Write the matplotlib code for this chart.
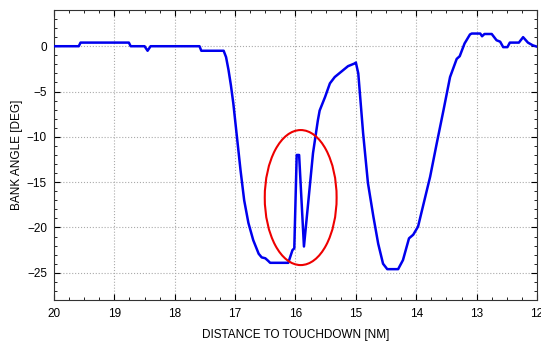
import matplotlib
matplotlib.use("Agg")
import matplotlib.pyplot as plt
from matplotlib.patches import Ellipse
from matplotlib.ticker import MultipleLocator

plt.rcParams['font.family'] = ['Liberation Sans', 'DejaVu Sans']

dist = [20.0, 19.59, 19.56, 18.76, 18.73, 18.50, 18.45, 18.40, 17.59, 17.56, 17.19,
        17.15, 17.11, 17.07, 17.03, 16.97, 16.91, 16.85, 16.78, 16.70, 16.61, 16.56,
        16.50, 16.45, 16.42, 16.12, 16.05, 16.02, 15.98, 15.94, 15.86, 15.79, 15.71,
        15.63, 15.60, 15.51, 15.43, 15.35, 15.24, 15.13, 15.02, 15.00, 14.96, 14.88,
        14.80, 14.71, 14.63, 14.55, 14.48, 14.30, 14.22, 14.12, 14.05, 13.97, 13.89,
        13.77, 13.66, 13.55, 13.44, 13.33, 13.28, 13.20, 13.11, 13.08, 12.94, 12.91,
        12.87, 12.75, 12.67, 12.61, 12.56, 12.49, 12.45, 12.30, 12.23, 12.15, 12.07,
        12.0]
bank = [0.0, 0.0, 0.4, 0.4, 0.0, 0.0, -0.5, 0.0, 0.0, -0.5, -0.5,
        -1.2, -2.6, -4.3, -6.3, -10.0, -13.7, -17.0, -19.5, -21.4, -22.9, -23.3,
        -23.4, -23.7, -23.9, -23.9, -22.5, -22.3, -12.0, -12.0, -22.1, -17.3, -11.8,
        -8.2, -7.1, -5.6, -4.1, -3.4, -2.8, -2.2, -1.9, -1.8, -3.0, -9.6,
        -15.1, -18.8, -21.8, -24.0, -24.6, -24.6, -23.6, -21.2, -20.8, -19.9, -17.7,
        -14.4, -10.7, -7.1, -3.4, -1.4, -1.1, 0.3, 1.3, 1.4, 1.4, 1.1,
        1.35, 1.35, 0.66, 0.5, -0.1, -0.1, 0.4, 0.4, 1.0, 0.4, 0.1,
        -0.05]

xticks = [20, 19, 18, 17, 16, 15, 14, 13, 12]
yticks = [0, -5, -10, -15, -20, -25]

fig = plt.figure(figsize=(5.41, 3.44), dpi=100)
ax = fig.add_axes([0.0998, 0.128, 0.8928, 0.843])
ax.plot(dist, bank, color='#0000ee', linewidth=1.8, zorder=3)
ax.add_patch(Ellipse((15.914, -16.7), 1.19, 14.9, fill=False, edgecolor='#ee0000', linewidth=1.5, zorder=4))

ax.set_xlim(20, 12)
ax.set_ylim(-28, 4)
ax.set_xticks(xticks)
ax.set_yticks(yticks)
ax.xaxis.set_minor_locator(MultipleLocator(0.25))
ax.yaxis.set_minor_locator(MultipleLocator(1))
ax.tick_params(which='both', direction='in', top=True, right=True, labelsize=8.5, colors='black')
ax.tick_params(axis='x', which='major', pad=6)
ax.tick_params(axis='y', which='major', pad=5)
ax.tick_params(which='major', length=4)
ax.tick_params(which='minor', length=2)
ax.grid(True, which='major', linestyle=':', color='#aaaaaa', linewidth=0.8)
for s in ax.spines.values():
    s.set_color('#333333')
ax.set_xlabel('DISTANCE TO TOUCHDOWN [NM]', fontsize=8.5, labelpad=6)
ax.set_ylabel('BANK ANGLE [DEG]', fontsize=8.5, labelpad=3)
fig.savefig('out.png', dpi=100)
